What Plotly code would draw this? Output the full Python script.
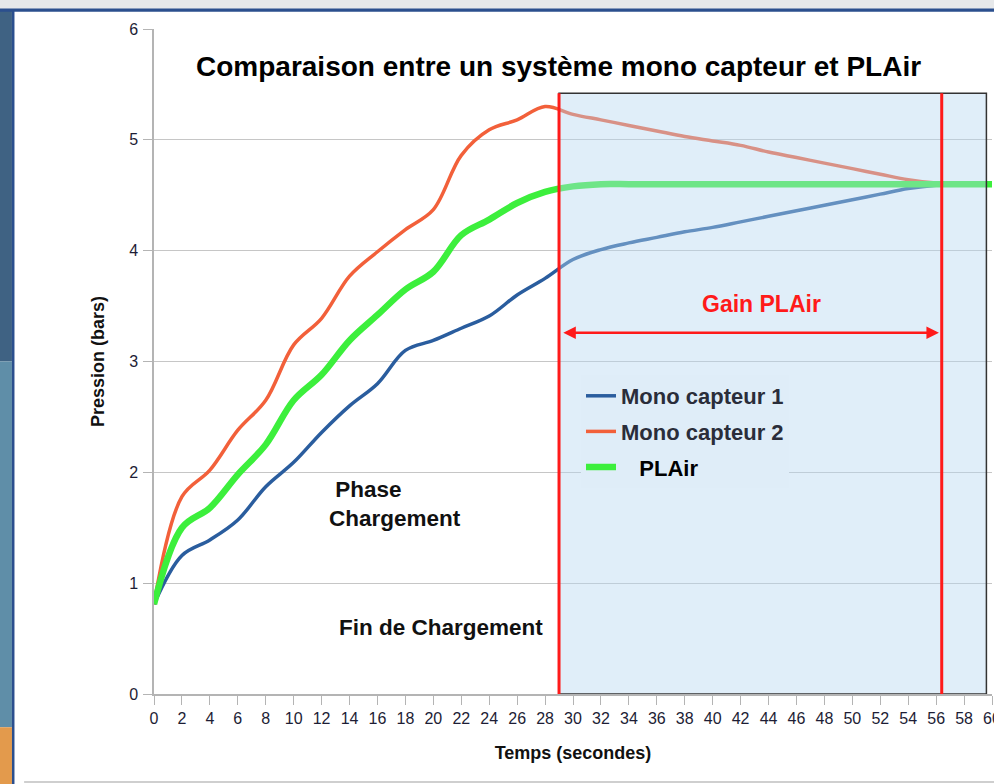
import plotly.graph_objects as go

# ---- data ----
temps = [0, 2, 4, 6, 8, 10, 12, 14, 16, 18, 20, 22, 24, 26, 28, 30,
         32, 34, 36, 38, 40, 42, 44, 46, 48, 50, 52, 54, 56, 58, 60]
mono_capteur_1 = [0.81, 1.25, 1.39, 1.57, 1.87, 2.09, 2.36, 2.60, 2.80, 3.10, 3.19, 3.30, 3.41, 3.60, 3.75, 3.92,
                  4.01, 4.07, 4.12, 4.17, 4.21, 4.26, 4.31, 4.36, 4.41, 4.46, 4.51, 4.56, 4.59, 4.60, 4.60]
mono_capteur_2 = [0.81, 1.78, 2.02, 2.38, 2.65, 3.15, 3.39, 3.77, 3.99, 4.19, 4.37, 4.86, 5.09, 5.18, 5.30, 5.23,
                  5.18, 5.13, 5.08, 5.03, 4.99, 4.95, 4.89, 4.84, 4.79, 4.74, 4.69, 4.64, 4.61, 4.60, 4.60]
plair = [0.81, 1.50, 1.68, 1.98, 2.25, 2.65, 2.88, 3.19, 3.42, 3.65, 3.81, 4.14, 4.28, 4.43, 4.53, 4.58,
         4.60, 4.60, 4.60, 4.60, 4.60, 4.60, 4.60, 4.60, 4.60, 4.60, 4.60, 4.60, 4.60, 4.60, 4.60]

fin_chargement = 29.0   # seconds
fin_plair = 56.4        # seconds
zone_fin = 59.6
zone_haut = 5.42
fleche_y = 3.26

FONT = "Arial, Liberation Sans, sans-serif"

fig = go.Figure()
fig.add_trace(go.Scatter(x=temps, y=mono_capteur_1, mode="lines", name="<b>Mono capteur 1</b>",
                         legendgroup="g1",
                         line=dict(color="#2a5d9e", width=3.5, shape="spline", smoothing=1)))
fig.add_trace(go.Scatter(x=temps, y=mono_capteur_2, mode="lines", name="<b>Mono capteur 2</b>",
                         legendgroup="g2",
                         line=dict(color="#f2603a", width=3.5, shape="spline", smoothing=1)))
fig.add_trace(go.Scatter(x=temps, y=plair, mode="lines", legendgroup="g3",
                         name="<span style='color:#000'>\u00a0\u00a0\u00a0<b>PLAir</b></span>",
                         line=dict(color="#3cef3c", width=6.5, shape="spline", smoothing=1)))

shapes = [
    # window decorations
    dict(type="rect", xref="paper", yref="paper", x0=-0.19, x1=-0.1695, y0=0.5, y1=1.05,
         fillcolor="#3f6283", line_width=0, layer="above"),
    dict(type="rect", xref="paper", yref="paper", x0=-0.19, x1=-0.1695, y0=-0.05, y1=0.5,
         fillcolor="#5f8ea8", line_width=0, layer="above"),
    dict(type="rect", xref="paper", yref="paper", x0=-0.19, x1=-0.1695, y0=-0.14, y1=-0.05,
         fillcolor="#e39a4c", line_width=0, layer="above"),
    dict(type="rect", xref="paper", yref="paper", x0=-0.1695, x1=-0.1665, y0=-0.14, y1=1.03,
         fillcolor="#2b4f8e", line_width=0, layer="above"),
    dict(type="rect", xref="paper", yref="paper", x0=-0.19, x1=1.01, y0=1.030, y1=1.05,
         fillcolor="#e6e8ea", line_width=0, layer="above"),
    dict(type="rect", xref="paper", yref="paper", x0=-0.19, x1=1.01, y0=1.026, y1=1.031,
         fillcolor="#2b4f8e", line_width=0, layer="above"),
    dict(type="line", xref="paper", yref="paper", x0=-0.155, x1=1.01, y0=-0.1325, y1=-0.1325,
         line=dict(color="#cfcfcf", width=2), layer="above"),
    # shaded zone
    dict(type="rect", xref="x", yref="y", x0=fin_chargement, x1=zone_fin, y0=0, y1=zone_haut,
         fillcolor="rgba(180,215,240,0.42)", line=dict(color="#333333", width=1.5), layer="above"),
    dict(type="line", xref="x", yref="y", x0=fin_chargement, x1=fin_chargement, y0=0, y1=zone_haut,
         line=dict(color="#ff1a1a", width=3), layer="above"),
    dict(type="line", xref="x", yref="y", x0=fin_plair, x1=fin_plair, y0=0, y1=zone_haut,
         line=dict(color="#ff1a1a", width=3), layer="above"),
]

annotations = [
    dict(xref="paper", yref="paper", x=0.483, y=0.943, text="<b>Comparaison entre un système mono capteur et PLAir</b>",
         showarrow=False, font=dict(family=FONT, size=28, color="#000"), xanchor="center", yanchor="middle"),
    dict(xref="x", yref="y", x=fin_plair - 0.2, y=fleche_y, ax=fin_chargement + 0.2, ay=fleche_y,
         axref="x", ayref="y", text="", showarrow=True, arrowside="end+start", arrowhead=2,
         arrowsize=1.0, arrowwidth=2.5, arrowcolor="#ff1a1a"),
    dict(xref="x", yref="y", x=43.5, y=3.52, text="<b>Gain PLAir</b>", showarrow=False,
         font=dict(family=FONT, size=23, color="#ff1a1a")),
    dict(xref="x", yref="y", x=12.4, y=1.71, text="<b>\u00a0Phase<br>Chargement</b>", showarrow=False,
         align="left", xanchor="left", font=dict(family=FONT, size=22.5, color="#111")),
    dict(xref="x", yref="y", x=13.1, y=0.60, text="<b>Fin de Chargement</b>", showarrow=False,
         xanchor="left", font=dict(family=FONT, size=22.5, color="#111")),
]

fig.update_layout(
    width=994, height=784,
    margin=dict(l=154, r=2, t=29, b=90, autoexpand=False),
    paper_bgcolor="white", plot_bgcolor="white",
    font=dict(family=FONT, color="#222"),
    shapes=shapes, annotations=annotations,
    showlegend=True,
    legend=dict(x=(581 - 154) / 838, y=(694 - 375) / 665, xanchor="left", yanchor="top",
                bgcolor="#dfedf8", borderwidth=0, itemwidth=30,
                font=dict(family=FONT, size=22, color="#2a2d3a"),
                tracegroupgap=4, traceorder="grouped"),
    xaxis=dict(range=[0, 60], tick0=0, dtick=2, showgrid=False, zeroline=False,
               showline=True, linecolor="#b4b4b4", linewidth=1.5,
               ticks="outside", ticklen=9, tickcolor="#b4b4b4", ticklabelstandoff=0,
               ticklabeloverflow="allow",
               tickfont=dict(family=FONT, size=16, color="#1d1d35"),
               title=dict(text="<b>Temps (secondes)</b>", standoff=20,
                          font=dict(family=FONT, size=18, color="#111"))),
    yaxis=dict(range=[0, 6], dtick=1, showgrid=True, gridcolor="#c6c6c6", gridwidth=1.2, zeroline=False,
               showline=True, linecolor="#b4b4b4", linewidth=1.5,
               ticks="outside", ticklen=9, tickcolor="#b4b4b4", ticklabelstandoff=2,
               tickfont=dict(family=FONT, size=16, color="#1d1d35"),
               title=dict(text="<b>Pression (bars)</b>", standoff=20,
                          font=dict(family=FONT, size=18, color="#111"))),
)

fig.write_html("out.html", config={"displayModeBar": False},
               post_script="document.body.style.margin='0px';document.body.style.overflow='hidden';")
